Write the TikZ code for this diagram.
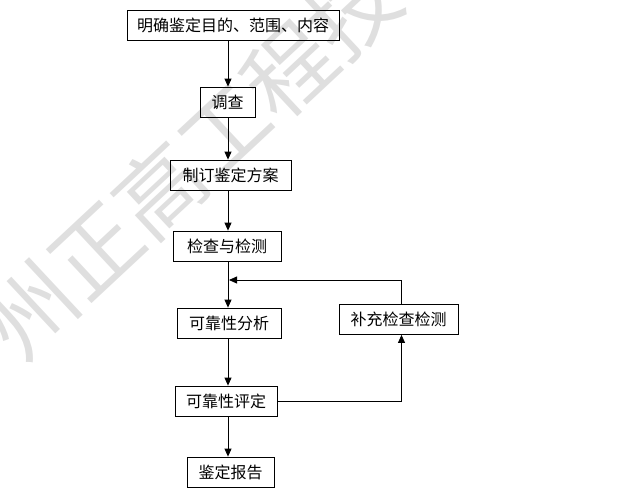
\documentclass[tikz,border=0pt]{standalone}
\usepackage{fontspec}
\newfontfamily\cjk{Noto Sans CJK SC}
\usetikzlibrary{arrows.meta}

\begin{document}
\begin{tikzpicture}[x=1pt, y=-1pt, font=\cjk\fontsize{16}{18}\selectfont,
  box/.style={draw, line width=0.8pt, minimum height=30pt, inner sep=0pt},
  arr/.style={-{Triangle[length=8pt,width=7pt]}, line width=0.8pt}]
  \useasboundingbox (0,0) rectangle (629,503);
  % watermark behind the chart
  \begin{scope}
    \clip (0,0) rectangle (629,503);
    \node[text=gray!25, rotate=43, font=\cjk\fontsize{88}{88}\selectfont] (mark) at (192,160) {州正高工程技};
  \end{scope}
  % main column
  \node[box, minimum width=212] (aim) at (233,25) {明确鉴定目的、范围、内容};
  \node[box, minimum width=55] (survey) at (227.5,102) {调查};
  \node[box, minimum width=121] (plan) at (230.5,175) {制订鉴定方案};
  \node[box, minimum width=108] (check) at (227,246) {检查与检测};
  \node[box, minimum width=104] (analysis) at (229,323) {可靠性分析};
  \node[box, minimum width=102] (rate) at (226,401) {可靠性评定};
  \node[box, minimum width=87] (report) at (230.5,472) {鉴定报告};
  % side loop
  \node[box, minimum width=119] (supp) at (398.5,319.5) {补充检查检测};
  \coordinate (spine) at (228,0);
  \coordinate (loopin) at (229,280);
  \foreach \a/\b in {aim/survey, survey/plan, plan/check, check/analysis, analysis/rate, rate/report}
    \draw[arr] (\a.south -| spine) -- (\b.north -| spine);
  \draw[arr] (rate.east) -| ([xshift=3pt]supp.south);
  \draw[arr] ([xshift=3pt]supp.north) |- (loopin);
\end{tikzpicture}
\end{document}
